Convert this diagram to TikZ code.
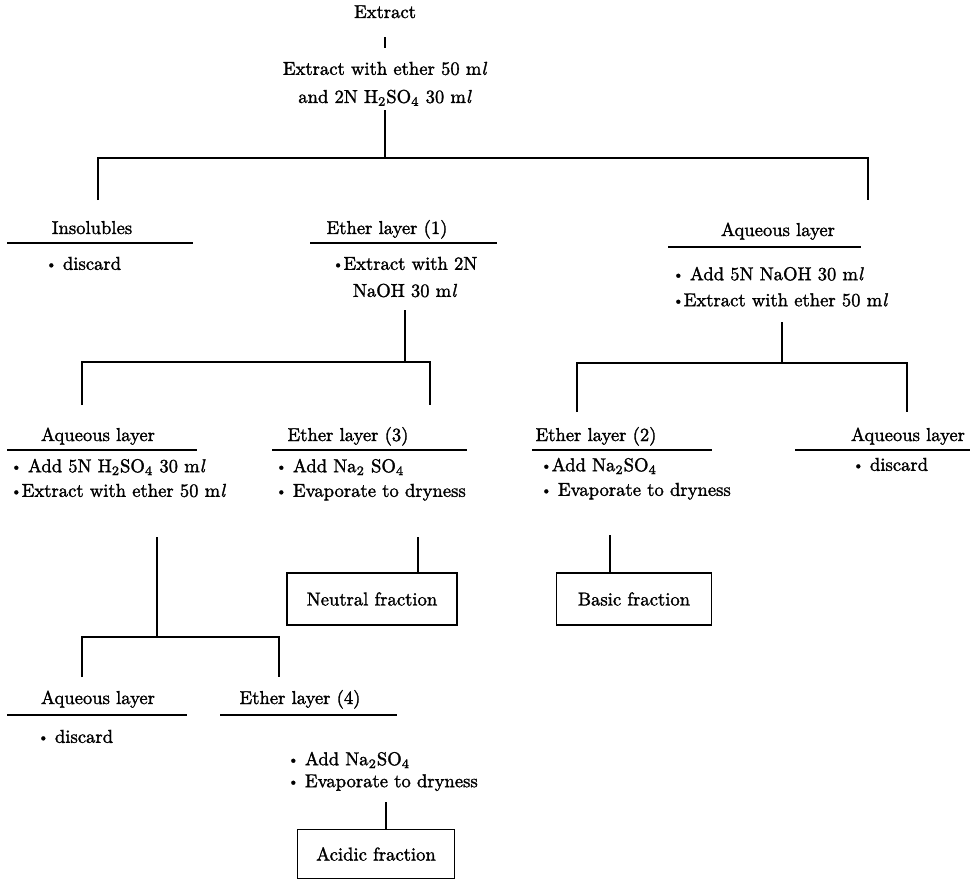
\documentclass[tikz,border=0pt]{standalone}
\usepackage{fontspec}
\setmainfont{Latin Modern Roman}[FakeBold=1.6]
\usepackage{tikz}
\usetikzlibrary{positioning, calc}

\newcommand{\dotb}{\raisebox{0.15ex}{\scalebox{0.75}{\textbullet}}}
\newcommand{\mlit}{m\textit{l}}

\begin{document}
\begin{tikzpicture}[x=0.02cm, y=-0.02cm, line width=1pt,
    every node/.style={font=\fontsize{10.6}{14}\selectfont, inner sep=0pt},
    layer/.style={anchor=base},
    steps/.style={anchor=north west, align=left},
    fraction/.style={draw, line width=1pt, minimum height=1.04cm}]
    \useasboundingbox (0,0) rectangle (974,882);

    % start
    \node (ext) at (385,18) [anchor=base] {Extract};
    \node (ew) at (385,61) [anchor=north, align=center, font=\fontsize{10.6}{16}\selectfont]
        {Extract with ether 50 \mlit\\ and 2N H\textsubscript{2}SO\textsubscript{4} 30 \mlit};
    \draw[shorten <=0.36cm, shorten >=0.26cm] (ext) -- (ew);

    % first split
    \coordinate (b1) at (385,158);
    \coordinate (b1l) at (98,158);
    \coordinate (b1r) at (868,158);
    \coordinate (d1l) at (98,200);
    \coordinate (d1r) at (868,200);
    \draw[shorten <=2pt] (ew) -- (b1);
    \draw (d1l) -- (b1l) -- (b1r) -- (d1r);

    \node[layer] (ins) at (92,234) {Insolubles};
    \draw (7,243) -- (193,243);
    \node[steps] (insl) at (45,256) {\dotb\ discard};

    \node[layer] (e1) at (387,234) {Ether layer (1)};
    \draw (310,243) -- (497,243);
    \node[anchor=north, align=center, font=\fontsize{10.6}{15.4}\selectfont] (e1l) at (405,256)
        {\dotb Extract with 2N\\ NaOH 30 \mlit};

    \node[layer] (aq1) at (778,236) {Aqueous layer};
    \draw (668,247) -- (861,247);
    \node[steps, font=\fontsize{10.6}{14.8}\selectfont] (aq1l) at (672,266)
        {\dotb\ Add 5N NaOH 30 \mlit\\ \dotb Extract with ether 50 \mlit};

    % ether layer (1) split
    \coordinate (s2) at (405,310);
    \coordinate (b2) at (405,362);
    \coordinate (b2l) at (82,362);
    \coordinate (b2r) at (430,362);
    \coordinate (d2l) at (82,405);
    \coordinate (d2r) at (430,405);
    \draw (s2) -- (b2);
    \draw (d2l) -- (b2l) -- (b2r) -- (d2r);

    % aqueous layer split
    \coordinate (s3) at (782,322);
    \coordinate (b3) at (782,363);
    \coordinate (b3l) at (577,363);
    \coordinate (b3r) at (907,363);
    \coordinate (d3l) at (577,412);
    \coordinate (d3r) at (907,412);
    \draw (s3) -- (b3);
    \draw (d3l) -- (b3l) -- (b3r) -- (d3r);

    \node[layer] (aq2) at (98,441) {Aqueous layer};
    \draw (7,450) -- (197,450);
    \node[steps] (aq2l) at (10,458)
        {\dotb\ Add 5N H\textsubscript{2}SO\textsubscript{4} 30 \mlit\\ \dotb Extract with ether 50 \mlit};

    \node[layer] (e3) at (348,441) {Ether layer (3)};
    \draw (272,450) -- (467,450);
    \node[steps] (e3l) at (275,458)
        {\dotb\ Add Na\textsubscript{2} SO\textsubscript{4}\\ \dotb\ Evaporate to dryness};

    \node[layer] (e2) at (596,441) {Ether layer (2)};
    \draw (532,450) -- (712,450);
    \node[steps] (e2l) at (540,457)
        {\dotb Add Na\textsubscript{2}SO\textsubscript{4}\\ \dotb\ Evaporate to dryness};

    \node[layer] (aq3) at (908,441) {Aqueous layer};
    \draw (795,450) -- (970,450);
    \node[steps] (aq3l) at (852,457) {\dotb\ discard};

    % fractions
    \node[fraction, minimum width=3.4cm] (nf) at (372,599) {Neutral fraction};
    \coordinate (t3) at (418,537);
    \draw (t3) -- (t3 |- nf.north);

    \node[fraction, minimum width=3.1cm] (bf) at (634,599) {Basic fraction};
    \coordinate (t2) at (610,535);
    \draw (t2) -- (t2 |- bf.north);

    % aqueous layer (acid side) split
    \coordinate (s4) at (157,537);
    \coordinate (b4) at (157,637);
    \coordinate (b4l) at (82,637);
    \coordinate (b4r) at (279,637);
    \coordinate (d4l) at (82,677);
    \coordinate (d4r) at (279,677);
    \draw (s4) -- (b4);
    \draw (d4l) -- (b4l) -- (b4r) -- (d4r);

    \node[layer] (aq4) at (98,704) {Aqueous layer};
    \draw (7,715) -- (187,715);
    \node[steps] (aq4l) at (37,729) {\dotb\ discard};

    \node[layer] (e4) at (300,704) {Ether layer (4)};
    \draw (220,715) -- (397,715);
    \node[steps, font=\fontsize{10.6}{12.5}\selectfont] (e4l) at (287,751)
        {\dotb\ Add Na\textsubscript{2}SO\textsubscript{4}\\ \dotb\ Evaporate to dryness};

    \node[fraction, minimum width=3.14cm, minimum height=0.98cm] (af) at (376,854) {Acidic fraction};
    \coordinate (t4) at (386,802);
    \draw (t4) -- (t4 |- af.north);
\end{tikzpicture}
\end{document}
